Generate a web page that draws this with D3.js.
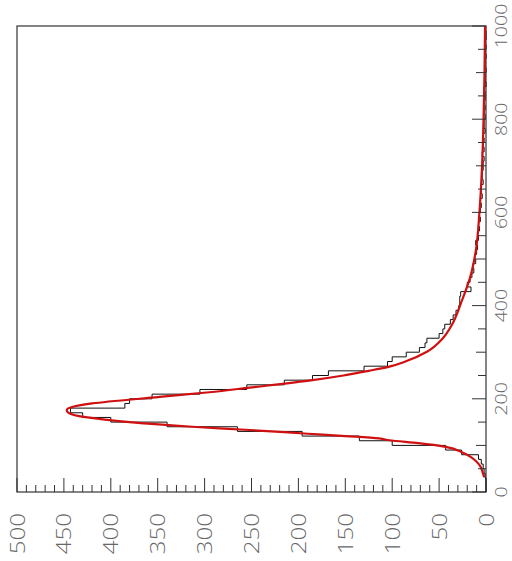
<!DOCTYPE html>
<html>
<head>
<meta charset="utf-8">
<script src="https://cdn.jsdelivr.net/npm/d3@7"></script>
<style>
  html, body { margin: 0; padding: 0; background: #fff; }
  svg { display: block; }
  .lab { font-family: "Open Sans", "Liberation Sans", Arial, sans-serif; font-weight: 300; fill: #666; }
</style>
</head>
<body>
<svg id="chart" width="512" height="561"></svg>
<script>
// Histogram: 100 bins of width 10 over [0, 1000]
const binEdges = d3.range(0, 1001, 10);
const counts = [
  0, 0, 0, 1, 2, 3, 5, 8, 26, 43,
  100, 135, 196, 265, 340, 400, 430, 443, 385, 380,
  356, 305, 255, 215, 185, 168, 130, 105, 100, 85,
  71, 65, 63, 50, 46, 44, 38, 35, 32, 29,
  28, 28, 27, 16, 20, 17, 15, 13, 14, 11,
  12, 10, 9, 11, 8, 9, 7, 8, 6, 7,
  6, 5, 6, 4, 5, 5, 3, 4, 4, 3,
  3, 2, 4, 2, 3, 2, 3, 1, 2, 2,
  1, 2, 1, 2, 1, 1, 2, 0, 1, 1,
  0, 1, 1, 0, 1, 0, 1, 0, 0, 1
];

// Fitted curve, sampled points (x, value)
const fitX = [32, 45, 55, 65, 75, 85, 97, 105, 111, 115, 120, 125, 133, 140, 150, 160, 170, 176, 182, 190, 204, 214, 224, 240, 250, 260, 269, 280, 301, 330, 360, 409, 460, 516, 600, 700, 800, 900, 1000];
const fitY = [2, 4, 6, 10, 16, 25, 43, 72, 103, 114, 150, 190, 252, 313, 380, 425, 445, 447, 442, 420, 348, 295, 252, 185, 152, 125, 103, 86, 63, 46, 36, 26, 17, 11, 7, 4.2, 2.6, 1.6, 1];

// Axis ticks and labels
const xMajor = [0, 200, 400, 600, 800, 1000];
const xMinor = d3.range(0, 1001, 50);
const yMajor = [0, 50, 100, 150, 200, 250, 300, 350, 400, 450, 500];
const yMinor = d3.range(0, 501, 10);

const svg = d3.select("#chart");

// Plot drawn in its own frame, turned a quarter turn so the x axis runs upward
const W = 466, H = 469;
const g = svg.append("g").attr("transform", "translate(486,492) rotate(-90)");

const x = d3.scaleLinear().domain([0, 1000]).range([0, W]);
const y = d3.scaleLinear().domain([0, 500]).range([0, -H]);

// frame
g.append("rect")
  .attr("x", 0).attr("y", -H).attr("width", W).attr("height", H)
  .attr("fill", "none").attr("stroke", "#333").attr("stroke-width", 1.2);

// histogram outline
const stepPts = [];
counts.forEach((c, i) => {
  stepPts.push([binEdges[i], c]);
  stepPts.push([binEdges[i + 1], c]);
});
const stepLine = d3.line().x(d => x(d[0])).y(d => y(d[1]));
g.append("path")
  .attr("d", stepLine(stepPts))
  .attr("fill", "none").attr("stroke", "#111").attr("stroke-width", 1);

// fit curve
const fitPts = fitX.map((v, i) => [v, fitY[i]]);
g.append("path")
  .attr("d", d3.line().x(d => x(d[0])).y(d => y(d[1])).curve(d3.curveMonotoneX)(fitPts))
  .attr("fill", "none").attr("stroke", "#d01010").attr("stroke-width", 2.2);

// value-axis ticks (drawn inward)
g.selectAll(".ytick").data(yMinor).enter().append("line")
  .attr("x1", 0).attr("x2", d => yMajor.includes(d) ? 14 : 7)
  .attr("y1", d => y(d)).attr("y2", d => y(d))
  .attr("stroke", "#333").attr("stroke-width", 1);

// x-axis ticks (drawn inward)
g.selectAll(".xtick").data(xMinor).enter().append("line")
  .attr("x1", d => x(d)).attr("x2", d => x(d))
  .attr("y1", 0).attr("y2", d => xMajor.includes(d) ? -14 : (d % 100 === 0 ? -10 : -8))
  .attr("stroke", "#333").attr("stroke-width", 1);

// value-axis labels
g.selectAll(".ylab").data(yMajor).enter().append("text")
  .attr("class", "lab")
  .attr("transform", d => `translate(-21,${y(d) + 7.5}) scale(1.15,1)`)
  .attr("text-anchor", "end")
  .attr("font-size", 21)
  .text(d => d);

// x-axis labels
g.selectAll(".xlab").data(xMajor).enter().append("text")
  .attr("class", "lab")
  .attr("transform", d => `translate(${x(d)},21) scale(1.15,1)`)
  .attr("text-anchor", "middle")
  .attr("font-size", 17)
  .text(d => d);
</script>
</body>
</html>
